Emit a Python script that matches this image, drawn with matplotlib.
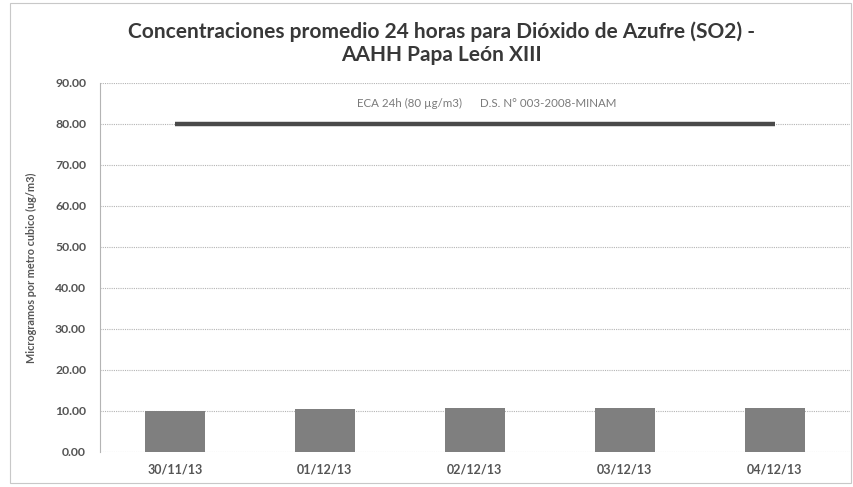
import numpy as np
import matplotlib
matplotlib.use('Agg')
import matplotlib.pyplot as plt

plt.rcParams['font.family'] = ['Lato', 'DejaVu Sans']

fechas = ['30/11/13', '01/12/13', '02/12/13', '03/12/13', '04/12/13']
so2_24h = [9.92, 10.48, 10.81, 10.81, 10.73]
eca_24h = [80, 80, 80, 80, 80]
y_ticks = np.arange(0, 91, 10)

fig = plt.figure(figsize=(8.54, 4.87), dpi=100)
# chart frame
fig.patches.append(plt.Rectangle((0.012, 0.008), 0.984, 0.986, transform=fig.transFigure,
                                 fill=False, edgecolor='#c8c8c8', linewidth=0.8))
ax = fig.add_axes([0.117, 0.072, 0.878, 0.758])

x = np.arange(len(fechas))
ax.bar(x, so2_24h, width=0.4, color='#7f7f7f', zorder=3)
ax.plot(x, eca_24h, color='#4a4a4a', linewidth=3.2, solid_capstyle='butt', zorder=4)

ax.text(2.08, 85, 'ECA 24h (80 µg/m3)      D.S. N° 003-2008-MINAM',
        ha='center', va='center', fontsize=8.3, color='#7a7a7a')

ax.set_xlim(-0.5, len(fechas) - 0.5)
ax.set_ylim(0, 90)
ax.set_yticks(y_ticks)
ax.set_yticklabels([f'{v:.2f}' for v in y_ticks])
ax.set_xticks(x)
ax.set_xticklabels(fechas)
ax.tick_params(axis='y', length=0, labelsize=8.8, colors='#555555', pad=10)
ax.tick_params(axis='x', length=0, labelsize=9, colors='#555555', pad=8)
for lab in ax.get_xticklabels() + ax.get_yticklabels():
    lab.set_fontweight('bold')

ax.grid(axis='y', color='#b4b4b4', linestyle=(0, (1, 1)), linewidth=0.8, zorder=0)
for s in ['top', 'right', 'bottom']:
    ax.spines[s].set_visible(False)
ax.spines['left'].set_color('#b4b4b4')
ax.spines['left'].set_linewidth(0.8)

ax.set_ylabel('Microgramos por metro cubico (ug/m3)', fontsize=7.8, fontweight='bold',
              color='#555555', labelpad=13)

fig.text(0.517, 0.912, 'Concentraciones promedio 24 horas para Dióxido de Azufre (SO2) -\nAAHH Papa León XIII',
         ha='center', va='center', fontsize=15, fontweight='bold', color='#383838',
         linespacing=1.2)

fig.savefig('out.png', dpi=100)
